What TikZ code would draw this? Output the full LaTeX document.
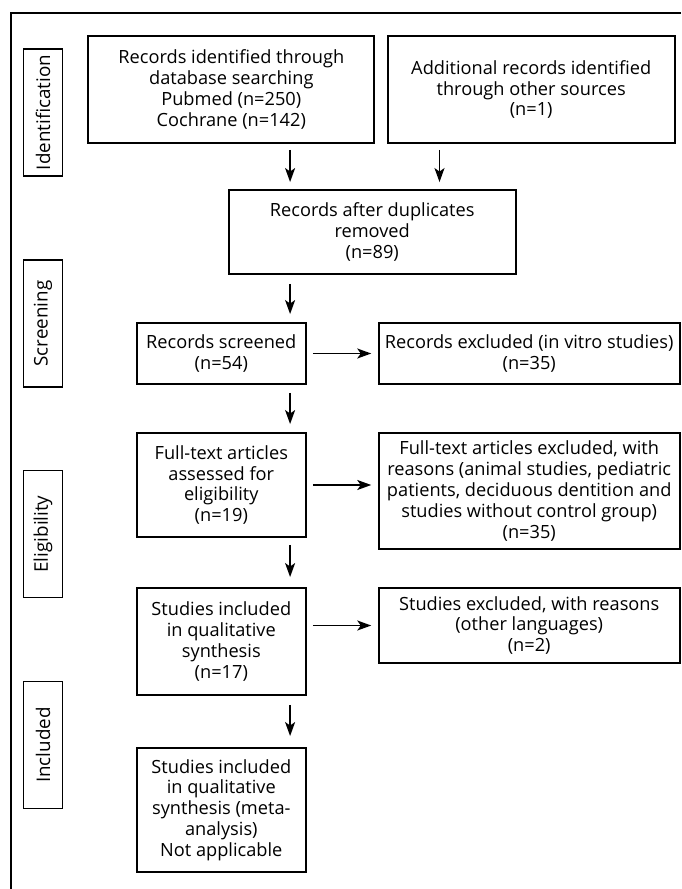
\documentclass[tikz,border=0pt]{standalone}
\usepackage{fontspec}
\setmainfont{Open Sans}
\usetikzlibrary{arrows.meta}

\begin{document}
\begin{tikzpicture}[
        x=1pt, y=-1pt,
        thick,
        box/.style={rectangle, draw, line width=1.9pt, align=center, inner sep=2pt, font=\fontsize{18.2}{20.8}\selectfont},
        stage/.style={rectangle, draw, line width=1.9pt, minimum width=127pt, minimum height=39pt, rotate=90, inner sep=0pt, font=\fontsize{18.8}{20}\selectfont},
        arrow/.style={-{Stealth[length=14pt, width=10pt, inset=3.5pt]}, line width=1.7pt}
    ]
        \useasboundingbox (0,0) rectangle (681,889);

        % Frame
        \draw[line width=2pt] (681,12.5) -- (10.9,12.5) -- (10.9,889);

        % Stage labels
        \node[stage] (ident_lab) at (43,112.5) {Identification};
        \node[stage] (screen_lab) at (43,323.5) {Screening};
        \node[stage] (elig_lab) at (43,534) {Eligibility};
        \node[stage] (incl_lab) at (43,745) {Included};

        % Identification
        \node[box, minimum width=286pt, minimum height=107pt] (db_rec) at (231.3,89.5) {Records identified through\\database searching\\Pubmed (n=250)\\Cochrane (n=142)};
        \node[box, minimum width=287pt, minimum height=107pt] (other_rec) at (531.2,89.5) {Additional records identified\\through other sources\\(n=1)};
        \node[box, minimum width=287pt, minimum height=84pt] (dup_rec) at (372.2,232) {Records after duplicates\\removed\\(n=89)};

        % Screening
        \node[box, minimum width=169pt, minimum height=61pt] (screened) at (221.3,353.5) {Records screened\\(n=54)};
        \node[box, minimum width=301pt, minimum height=61pt] (excl_vitro) at (529.2,353.5) {Records excluded (in vitro studies)\\(n=35)};

        % Eligibility
        \node[box, minimum width=169pt, minimum height=104pt] (full_text) at (221.3,485) {Full-text articles\\assessed for\\eligibility\\(n=19)};
        \node[box, minimum width=301pt, minimum height=116pt] (excl_full) at (529.2,491) {Full-text articles excluded, with\\reasons (animal studies, pediatric\\patients, deciduous dentition and\\studies without control group)\\(n=35)};

        % Included
        \node[box, minimum width=169pt, minimum height=107pt] (qual) at (221.3,641.5) {Studies included\\in qualitative\\synthesis\\(n=17)};
        \node[box, minimum width=301pt, minimum height=75pt] (excl_lang) at (529.2,625.5) {Studies excluded, with reasons\\(other languages)\\(n=2)};
        \node[box, minimum width=169pt, minimum height=124pt] (meta) at (221.3,810) {Studies included\\in qualitative\\synthesis (meta-\\analysis)\\Not applicable};

        % Arrow columns
        \coordinate (col_a) at (290.1,0);
        \coordinate (col_b) at (439.5,0);

        % Vertical arrows
        \draw[arrow] ([yshift=-6pt]db_rec.south -| col_a) -- ([yshift=7pt]dup_rec.north -| col_a);
        \draw[arrow] ([yshift=-6pt]other_rec.south -| col_b) -- ([yshift=7pt]dup_rec.north -| col_b);
        \draw[arrow] ([yshift=-9pt]dup_rec.south -| col_a) -- ([yshift=8pt]screened.north -| col_a);
        \draw[arrow] ([yshift=-8pt]screened.south -| col_a) -- ([yshift=8pt]full_text.north -| col_a);
        \draw[arrow] ([yshift=-7pt]full_text.south -| col_a) -- ([yshift=10pt]qual.north -| col_a);
        \draw[arrow] ([yshift=-9pt]qual.south -| col_a) -- ([yshift=11pt]meta.north -| col_a);

        % Horizontal arrows
        \draw[arrow, shorten <=6pt, shorten >=6.5pt] (screened.east) -- (excl_vitro.west);
        \draw[arrow, shorten <=6pt, shorten >=6.5pt] (full_text.east) -- (full_text.east -| excl_full.west);
        \draw[arrow, shorten <=6pt, shorten >=6.5pt] (qual.east |- excl_lang.west) -- (excl_lang.west);
    \end{tikzpicture}
\end{document}
